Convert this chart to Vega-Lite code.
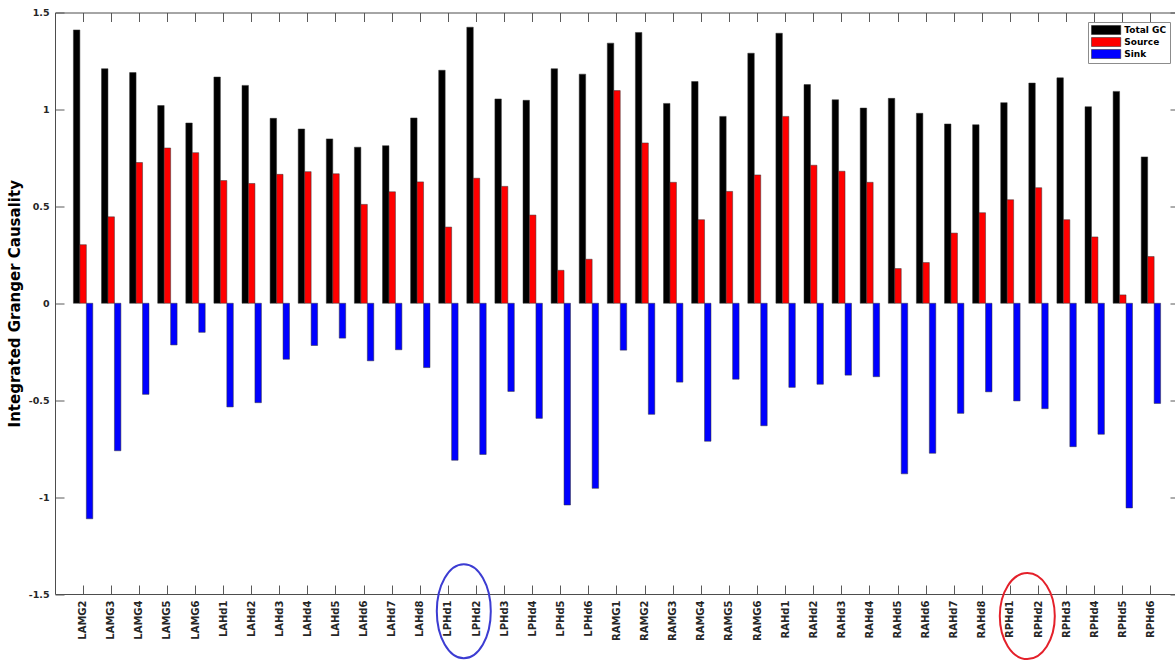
{
  "$schema": "https://vega.github.io/schema/vega-lite/v6.json",
  "width": 1124,
  "height": 581.5,
  "autosize": {"type": "none"},
  "padding": {"left": 55, "top": 12.5, "right": -4, "bottom": 67},
  "background": "#ffffff",
  "view": {"stroke": null},
  "config": {
    "font": "DejaVu Sans",
    "axis": {
      "grid": false,
      "domainColor": "#4d4d4d",
      "domainWidth": 1,
      "tickColor": "#5a5a5a",
      "tickWidth": 1,
      "labelFont": "DejaVu Sans",
      "labelFontWeight": "bold",
      "labelColor": "#262626"
    }
  },
  "datasets": {
    "gc": [
      {"label": "LAMG2", "Total GC": 1.41, "Source": 0.302, "Sink": -1.112},
      {"label": "LAMG3", "Total GC": 1.21, "Source": 0.446, "Sink": -0.761},
      {"label": "LAMG4", "Total GC": 1.19, "Source": 0.726, "Sink": -0.47},
      {"label": "LAMG5", "Total GC": 1.02, "Source": 0.801, "Sink": -0.215},
      {"label": "LAMG6", "Total GC": 0.93, "Source": 0.777, "Sink": -0.15},
      {"label": "LAHd1", "Total GC": 1.167, "Source": 0.633, "Sink": -0.535},
      {"label": "LAHd2", "Total GC": 1.124, "Source": 0.618, "Sink": -0.513},
      {"label": "LAHd3", "Total GC": 0.954, "Source": 0.665, "Sink": -0.289},
      {"label": "LAHd4", "Total GC": 0.899, "Source": 0.679, "Sink": -0.218},
      {"label": "LAHd5", "Total GC": 0.848, "Source": 0.668, "Sink": -0.18},
      {"label": "LAHd6", "Total GC": 0.805, "Source": 0.51, "Sink": -0.297},
      {"label": "LAHd7", "Total GC": 0.813, "Source": 0.575, "Sink": -0.24},
      {"label": "LAHd8", "Total GC": 0.956, "Source": 0.626, "Sink": -0.332},
      {"label": "LPHd1", "Total GC": 1.202, "Source": 0.393, "Sink": -0.81},
      {"label": "LPHd2", "Total GC": 1.424, "Source": 0.645, "Sink": -0.78},
      {"label": "LPHd3", "Total GC": 1.054, "Source": 0.603, "Sink": -0.455},
      {"label": "LPHd4", "Total GC": 1.047, "Source": 0.455, "Sink": -0.594},
      {"label": "LPHd5", "Total GC": 1.21, "Source": 0.17, "Sink": -1.041},
      {"label": "LPHd6", "Total GC": 1.182, "Source": 0.227, "Sink": -0.955},
      {"label": "RAMG1", "Total GC": 1.342, "Source": 1.097, "Sink": -0.242},
      {"label": "RAMG2", "Total GC": 1.397, "Source": 0.827, "Sink": -0.573},
      {"label": "RAMG3", "Total GC": 1.031, "Source": 0.624, "Sink": -0.407},
      {"label": "RAMG4", "Total GC": 1.144, "Source": 0.431, "Sink": -0.712},
      {"label": "RAMG5", "Total GC": 0.964, "Source": 0.577, "Sink": -0.392},
      {"label": "RAMG6", "Total GC": 1.29, "Source": 0.662, "Sink": -0.632},
      {"label": "RAHd1", "Total GC": 1.393, "Source": 0.964, "Sink": -0.434},
      {"label": "RAHd2", "Total GC": 1.128, "Source": 0.712, "Sink": -0.418},
      {"label": "RAHd3", "Total GC": 1.05, "Source": 0.681, "Sink": -0.371},
      {"label": "RAHd4", "Total GC": 1.007, "Source": 0.624, "Sink": -0.379},
      {"label": "RAHd5", "Total GC": 1.057, "Source": 0.179, "Sink": -0.88},
      {"label": "RAHd6", "Total GC": 0.98, "Source": 0.21, "Sink": -0.774},
      {"label": "RAHd7", "Total GC": 0.925, "Source": 0.362, "Sink": -0.568},
      {"label": "RAHd8", "Total GC": 0.921, "Source": 0.467, "Sink": -0.457},
      {"label": "RPHd1", "Total GC": 1.035, "Source": 0.534, "Sink": -0.504},
      {"label": "RPHd2", "Total GC": 1.136, "Source": 0.596, "Sink": -0.544},
      {"label": "RPHd3", "Total GC": 1.163, "Source": 0.431, "Sink": -0.74},
      {"label": "RPHd4", "Total GC": 1.014, "Source": 0.342, "Sink": -0.676},
      {"label": "RPHd5", "Total GC": 1.093, "Source": 0.043, "Sink": -1.056},
      {"label": "RPHd6", "Total GC": 0.755, "Source": 0.241, "Sink": -0.517}
    ]
  },
  "layer": [
    {
      "data": {"name": "gc"},
      "transform": [{"fold": ["Total GC", "Source", "Sink"], "as": ["series", "value"]}],
      "mark": {"type": "bar", "stroke": "#333333", "strokeWidth": 0.5},
      "encoding": {
        "x": {
          "field": "label",
          "type": "nominal",
          "sort": null,
          "scale": {
            "domain": ["LAMG2","LAMG3","LAMG4","LAMG5","LAMG6","LAHd1","LAHd2","LAHd3","LAHd4","LAHd5","LAHd6","LAHd7","LAHd8","LPHd1","LPHd2","LPHd3","LPHd4","LPHd5","LPHd6","RAMG1","RAMG2","RAMG3","RAMG4","RAMG5","RAMG6","RAHd1","RAHd2","RAHd3","RAHd4","RAHd5","RAHd6","RAHd7","RAHd8","RPHd1","RPHd2","RPHd3","RPHd4","RPHd5","RPHd6"],
            "paddingInner": 0.31,
            "paddingOuter": 0.655
          },
          "axis": {
            "orient": "bottom",
            "title": null,
            "labelAngle": -90,
            "labelFontSize": 10,
            "labelPadding": 15,
            "tickSize": -9
          }
        },
        "xOffset": {"field": "series", "type": "nominal", "sort": ["Total GC", "Source", "Sink"]},
        "y": {
          "field": "value",
          "type": "quantitative",
          "scale": {"domain": [-1.5, 1.5], "nice": false, "zero": false},
          "axis": {
            "orient": "left",
            "title": "Integrated Granger Causality",
            "titleFont": "DejaVu Sans",
            "titleFontSize": 15,
            "titleFontWeight": "bold",
            "titleColor": "#000000",
            "titlePadding": 6,
            "values": [-1.5, -1, -0.5, 0, 0.5, 1, 1.5],
            "labelExpr": "datum.value + ''",
            "labelFontSize": 9.5,
            "labelPadding": 15,
            "tickSize": -9
          }
        },
        "color": {
          "field": "series",
          "type": "nominal",
          "sort": ["Total GC", "Source", "Sink"],
          "scale": {"domain": ["Total GC", "Source", "Sink"], "range": ["#000000", "#ff0000", "#0000ff"]},
          "legend": {
            "title": null,
            "orient": "none",
            "legendX": 1033,
            "legendY": 9.5,
            "padding": 3,
            "cornerRadius": 0,
            "strokeColor": "#8c8c8c",
            "fillColor": "#ffffff",
            "symbolType": "M-1,-1H5.5V1H-1Z",
            "symbolSize": 81,
            "symbolStrokeColor": "#222222",
            "symbolStrokeWidth": 0.5,
            "symbolOpacity": 1,
            "labelFont": "DejaVu Sans",
            "labelFontWeight": "bold",
            "labelFontSize": 9,
            "labelColor": "#000000",
            "labelOffset": 23.3,
            "rowPadding": 0
          }
        }
      }
    },
    {
      "data": {"name": "gc"},
      "mark": {"type": "point", "opacity": 0},
      "encoding": {
        "x": {
          "field": "label",
          "type": "nominal",
          "sort": null,
          "axis": {"orient": "top", "title": null, "labels": false, "tickSize": -9}
        },
        "y": {
          "field": "Total GC",
          "type": "quantitative",
          "axis": {
            "orient": "right",
            "title": null,
            "labels": false,
            "values": [-1.5, -1, -0.5, 0, 0.5, 1, 1.5],
            "tickSize": -9
          }
        }
      }
    },
    {
      "data": {"values": [{"label": "LPHd1", "pos": -1.589}]},
      "mark": {
        "type": "point",
        "shape": "M0.848,0 C0.848,0.519 0.606,0.94 0.308,0.94 C0.010,0.94 -0.232,0.519 -0.232,0 C-0.232,-0.519 0.010,-0.94 0.308,-0.94 C0.606,-0.94 0.848,-0.519 0.848,0 Z",
        "size": 10000,
        "filled": false,
        "color": "#3c3cd2",
        "strokeWidth": 2,
        "opacity": 1
      },
      "encoding": {
        "x": {"field": "label", "type": "nominal", "axis": null},
        "y": {"field": "pos", "type": "quantitative", "axis": null}
      }
    },
    {
      "data": {"values": [{"label": "RPHd1", "pos": -1.614}]},
      "mark": {
        "type": "point",
        "shape": "M0.888,0 C0.888,0.475 0.642,0.86 0.338,0.86 C0.034,0.86 -0.212,0.475 -0.212,0 C-0.212,-0.475 0.034,-0.86 0.338,-0.86 C0.642,-0.86 0.888,-0.475 0.888,0 Z",
        "size": 10000,
        "filled": false,
        "color": "#e4202a",
        "strokeWidth": 2,
        "opacity": 1
      },
      "encoding": {
        "x": {"field": "label", "type": "nominal", "axis": null},
        "y": {"field": "pos", "type": "quantitative", "axis": null}
      }
    }
  ],
  "resolve": {"axis": {"x": "independent", "y": "independent"}}
}
